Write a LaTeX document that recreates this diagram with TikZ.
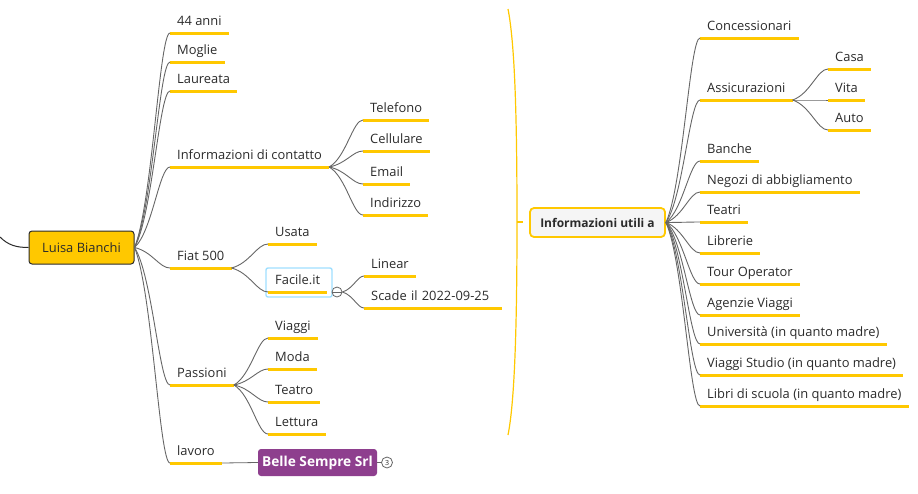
\documentclass[tikz,border=0pt]{standalone}
\usepackage{fontspec}
\setmainfont{Open Sans}
\usetikzlibrary{fit,calc}
\definecolor{linkgray}{HTML}{666666}
\definecolor{gold}{HTML}{FFC800}
\definecolor{ink}{HTML}{2B2B2B}
\definecolor{plum}{HTML}{8E3F8E}
\definecolor{skyline}{HTML}{9FDFFF}

\begin{document}
\begin{tikzpicture}[
	x=1pt,y=-1pt,
	font=\fontsize{12.9pt}{15pt}\selectfont,
	text=ink,
	topic/.style={anchor=south west,inner xsep=7pt,inner ysep=4.8pt,text height=9.5pt,text depth=2.5pt,
		append after command={(\tikzlastnode.south west) edge[gold,line width=3pt] (\tikzlastnode.south east)}},
	link/.style={draw=linkgray,line width=0.9pt,
		to path={let \p1=(\tikztostart),\p2=(\tikztotarget) in
			.. controls ({\x1+0.5*(\x2-\x1)},{\y1+0.2*(\y2-\y1)}) and ({\x2-0.3*(\x2-\x1)},\y2) .. (\tikztotarget)}},
	root/.style={draw=ink,line width=1pt,fill=gold,rounded corners=3pt,minimum width=105pt,minimum height=33pt,inner sep=0pt},
	hub/.style={draw=gold,line width=1.8pt,fill=black!4,rounded corners=4pt,minimum width=135pt,minimum height=29pt,inner sep=0pt,font=\fontsize{12pt}{15pt}\selectfont\bfseries},
	tag/.style={draw=none,fill=plum,text=white,rounded corners=3pt,minimum width=119pt,minimum height=27pt,inner sep=0pt,font=\fontsize{13.7pt}{15pt}\selectfont\bfseries},
	badge/.style={draw=linkgray,fill=white,circle,line width=0.8pt,minimum size=11pt,inner sep=0pt,font=\fontsize{7pt}{7pt}\selectfont}
	]
	\useasboundingbox (0,0) rectangle (918,493);

	% Luisa
	\node[root] (luisa) at (81.5,247.5) {Luisa Bianchi};
	\coordinate (stub) at (0,237);
	\draw[draw=ink,line width=1pt] (stub) to[out=-45,in=180] (luisa.west);

	\node[topic] (anni) at (170,33) {44 anni};
	\node[topic] (moglie) at (170,62) {Moglie};
	\node[topic] (laureata) at (170,91) {Laureata};
	\node[topic] (contatto) at (170,167) {Informazioni di contatto};
	\node[topic] (fiat) at (170,268) {Fiat 500};
	\node[topic] (passioni) at (170,385) {Passioni};
	\node[topic] (lavoro) at (170,463) {lavoro};

	\draw[link] (luisa.east) to (anni.south west);
	\draw[link] (luisa.east) to (moglie.south west);
	\draw[link] (luisa.east) to (laureata.south west);
	\draw[link] (luisa.east) to (contatto.south west);
	\draw[link] (luisa.east) to (fiat.south west);
	\draw[link] (luisa.east) to (passioni.south west);
	\draw[link] (luisa.east) to (lavoro.south west);

	% Contatti
	\node[topic] (telefono) at (363,120) {Telefono};
	\node[topic] (cellulare) at (363,151) {Cellulare};
	\node[topic] (email) at (363,184) {Email};
	\node[topic] (indirizzo) at (363,215) {Indirizzo};
	\draw[link] (contatto.south east) to (telefono.south west);
	\draw[link] (contatto.south east) to (cellulare.south west);
	\draw[link] (contatto.south east) to (email.south west);
	\draw[link] (contatto.south east) to (indirizzo.south west);

	% Fiat
	\node[topic] (usata) at (268,244) {Usata};
	\node[topic] (facile) at (268,292) {Facile.it};
	\node[draw=skyline,line width=1.4pt,rounded corners=2pt,inner sep=0pt,fit={(266,268) (332,297)}] (facilebox) {};
	\draw[link] (fiat.south east) to (usata.south west);
	\draw[link] (fiat.south east) to (facile.south west);
	\node[badge,minimum size=10pt] (fold) at (337,292) {};
	\draw[draw=linkgray,line width=0.8pt] (fold.west) -- (fold.east);
	\node[topic] (linear) at (364,276) {Linear};
	\node[topic,text width=124pt,align=left] (scade) at (364,308) {Scade il 2022-09-25};
	\draw[link] (fold.east) to (linear.south west);
	\draw[link] (fold.east) to (scade.south west);

	% Passioni
	\node[topic] (viaggi) at (268,338) {Viaggi};
	\node[topic] (moda) at (268,369) {Moda};
	\node[topic] (teatro) at (268,402) {Teatro};
	\node[topic] (lettura) at (268,434) {Lettura};
	\draw[link] (passioni.south east) to (viaggi.south west);
	\draw[link] (passioni.south east) to (moda.south west);
	\draw[link] (passioni.south east) to (teatro.south west);
	\draw[link] (passioni.south east) to (lettura.south west);

	% Lavoro
	\node[tag] (belle) at (317.5,462.5) {Belle Sempre Srl};
	\node[badge] (tre) at (387,462.5) {3};
	\draw[draw=linkgray,line width=0.8pt] (lavoro.south east) -- (belle.west);
	\draw[draw=linkgray,line width=0.8pt] (belle.east) -- (tre.west);

	% Graffa
	\draw[gold,line width=1.2pt] (508,9) .. controls (514,40) and (517,100) .. (517,222) .. controls (517,340) and (514,405) .. (508,435);
	\draw[gold,line width=1.2pt] (517,222) -- (523,222);

	% Informazioni utili
	\node[hub] (utili) at (597.5,222.5) {Informazioni utili a};
	\node[topic] (conc) at (700,38) {Concessionari};
	\node[topic] (assic) at (700,100) {Assicurazioni};
	\node[topic] (banche) at (700,161) {Banche};
	\node[topic] (negozi) at (700,192) {Negozi di abbigliamento};
	\node[topic] (teatri) at (700,222) {Teatri};
	\node[topic] (librerie) at (700,253) {Librerie};
	\node[topic] (tour) at (700,284) {Tour Operator};
	\node[topic] (agenzie) at (700,315) {Agenzie Viaggi};
	\node[topic] (univ) at (700,344) {Università (in quanto madre)};
	\node[topic] (studio) at (700,375) {Viaggi Studio (in quanto madre)};
	\node[topic] (libri) at (700,406) {Libri di scuola (in quanto madre)};

	\draw[link] (utili.east) to (conc.south west);
	\draw[link] (utili.east) to (assic.south west);
	\draw[link] (utili.east) to (banche.south west);
	\draw[link] (utili.east) to (negozi.south west);
	\draw[link] (utili.east) to (teatri.south west);
	\draw[link] (utili.east) to (librerie.south west);
	\draw[link] (utili.east) to (tour.south west);
	\draw[link] (utili.east) to (agenzie.south west);
	\draw[link] (utili.east) to (univ.south west);
	\draw[link] (utili.east) to (studio.south west);
	\draw[link] (utili.east) to (libri.south west);

	% Assicurazioni
	\node[topic] (casa) at (828,69) {Casa};
	\node[topic] (vita) at (828,100) {Vita};
	\node[topic] (auto) at (828,130) {Auto};
	\draw[link] (assic.south east) to (casa.south west);
	\draw[link] (assic.south east) to (vita.south west);
	\draw[link] (assic.south east) to (auto.south west);

\end{tikzpicture}
\end{document}
